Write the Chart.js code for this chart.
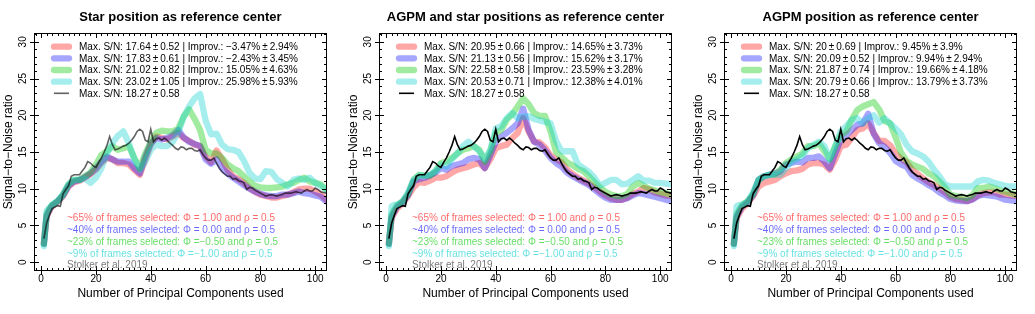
<!DOCTYPE html>
<html>
<head>
<meta charset="utf-8">
<script src="https://cdn.jsdelivr.net/npm/chart.js@4.4.1/dist/chart.umd.min.js"></script>
<style>
  body { margin: 0; background: #fff; }
  .row { display: flex; width: 1035px; height: 314px; }
  canvas { display: block; }
</style>
</head>
<body>
<div class="row">
  <canvas id="pStar" width="345" height="314"></canvas>
  <canvas id="pBoth" width="345" height="314"></canvas>
  <canvas id="pAgpm" width="345" height="314"></canvas>
</div>
<script>
// number of principal components where the coloured curves were read
const pcGrid = [1,2,3,4,6,8,10,12,14,16,
  18,20,22,24,26,28,30,32,34,36,
  38,40,42,44,46,48,50,52,54,56,
  58,60,62,64,66,68,70,72,74,76,
  78,80,82,84,86,88,90,92,94,96,
  98,100,102,104];

// Star position as reference center
const starRed = [2.6,6.2,7.0,7.6,8.2,9.0,10.3,10.9,11.1,11.5,
  12.0,12.6,13.5,14.2,14.0,13.5,13.5,13.3,12.6,11.9,
  14.0,16.0,17.1,16.9,16.7,17.1,17.6,16.9,16.5,16.0,
  15.8,14.4,13.6,15.2,14.0,12.6,11.7,11.3,10.8,10.1,
  9.6,9.2,9.0,8.8,8.8,9.0,9.2,9.5,9.9,10.0,
  10.0,9.6,9.2,8.5];
const starBlue = [2.5,6.3,7.1,7.7,8.3,9.1,10.4,11.0,11.2,11.6,
  12.1,12.8,13.7,14.4,14.0,13.7,13.7,13.7,12.8,12.1,
  14.4,16.2,16.9,16.7,16.9,17.3,18.0,17.0,16.4,16.1,
  15.8,14.0,13.4,14.0,12.8,12.1,11.5,11.0,10.5,10.0,
  9.6,9.3,9.1,9.0,9.0,9.2,9.2,9.4,9.6,9.4,
  9.3,9.1,8.9,8.3];
const starGreen = [2.5,6.5,7.3,7.8,8.3,9.2,10.6,11.2,11.2,11.7,
  12.2,13.3,14.6,15.1,15.8,15.3,15.5,15.8,14.2,12.8,
  14.8,16.4,17.6,17.9,17.8,17.8,18.2,19.8,20.8,19.5,
  18.0,15.3,14.8,14.8,14.2,13.3,12.8,12.4,11.7,11.0,
  10.4,10.2,10.1,10.1,10.2,10.3,10.6,10.8,11.2,11.5,
  11.0,10.8,10.6,9.9];
const starCyan = [2.2,7.0,7.4,7.8,8.3,9.2,10.6,11.2,11.2,11.4,
  10.8,11.5,12.8,14.8,16.2,17.2,17.8,16.2,14.0,12.6,
  13.7,15.3,16.0,15.8,15.8,16.4,17.6,19.8,21.2,22.3,
  22.9,19.3,17.4,17.5,16.0,15.4,15.3,15.0,13.8,12.2,
  11.4,11.3,12.4,12.3,11.3,10.8,10.3,11.2,11.4,11.2,
  11.5,10.8,10.4,9.9];

// AGPM and star positions as reference center
const bothRed = [2.6,6.0,6.7,7.3,8.0,9.0,10.2,10.9,10.8,11.1,
  11.5,11.5,11.7,12.2,12.6,12.8,13.0,13.3,13.5,12.8,
  14.0,15.5,15.8,16.0,16.9,17.6,19.6,17.8,16.4,16.3,
  15.6,14.5,14.0,13.6,12.6,12.0,11.5,11.1,10.7,10.2,
  9.6,9.1,8.7,8.5,8.5,8.8,9.3,9.6,10.1,9.9,
  9.5,9.3,9.1,9.0];
const bothBlue = [2.5,6.2,6.9,7.6,8.2,9.1,11.0,11.3,11.5,11.8,
  12.2,12.8,12.6,13.1,13.3,13.5,14.0,14.2,14.0,12.8,
  14.6,16.4,17.1,17.6,18.2,18.9,20.9,18.0,16.4,16.0,
  15.2,14.2,13.5,13.0,12.2,11.7,11.3,10.9,10.5,9.9,
  9.3,8.8,8.5,8.5,8.5,8.7,9.1,9.4,9.3,9.1,
  8.9,8.7,8.5,8.3];
const bothGreen = [2.5,6.5,7.2,7.8,8.3,9.3,11.2,11.9,11.8,11.8,
  12.4,13.5,13.7,14.2,14.8,15.3,15.5,15.8,15.3,13.7,
  15.1,17.6,18.0,19.4,20.1,21.2,22.3,21.5,20.3,19.9,
  19.9,17.8,15.0,14.3,13.6,13.2,12.7,12.4,11.7,10.9,
  10.2,9.6,9.2,9.0,9.0,9.3,10.3,10.8,10.4,10.0,
  9.8,9.5,9.4,9.2];
const bothCyan = [2.2,7.6,7.8,7.8,8.2,9.5,11.2,11.8,11.8,11.9,
  12.4,13.3,13.0,14.0,14.8,15.8,16.4,15.8,15.1,14.0,
  15.3,18.2,18.5,19.6,20.3,19.6,19.8,19.9,19.5,19.3,
  19.1,18.9,16.5,15.1,15.1,15.1,13.3,12.8,12.3,11.5,
  10.4,10.8,11.2,11.2,10.6,10.7,11.2,11.7,11.1,11.1,
  10.8,10.8,10.7,10.6];

// AGPM position as reference center
const agpmRed = [2.6,6.0,6.7,7.3,8.0,9.0,10.3,10.8,11.0,11.2,
  11.7,12.1,12.4,12.5,12.7,13.3,13.5,13.5,13.3,12.6,
  14.0,15.8,16.0,16.9,18.0,18.2,18.9,17.6,16.5,16.5,
  15.9,14.8,14.1,13.6,12.6,12.0,11.4,10.9,10.5,10.0,
  9.5,8.9,8.6,8.5,8.3,8.6,9.1,9.4,9.5,9.5,
  9.2,9.2,9.1,9.0];
const agpmBlue = [2.5,6.2,6.9,7.6,8.2,9.1,11.2,11.7,11.9,12.1,
  12.4,13.3,13.5,13.7,13.6,14.2,14.2,14.4,13.7,12.8,
  14.8,16.7,17.3,18.0,18.7,18.9,20.2,17.5,16.2,15.7,
  14.9,13.8,13.3,13.0,11.9,11.4,11.0,10.5,10.1,9.5,
  9.1,8.6,8.4,8.3,8.3,8.5,9.0,9.2,9.1,9.0,
  8.8,8.5,8.4,8.3];
const agpmGreen = [2.5,6.5,7.2,7.8,8.3,9.3,11.2,11.7,11.9,12.0,
  12.6,13.5,14.0,14.4,14.8,15.8,15.8,16.2,15.1,14.0,
  15.8,17.3,17.8,19.4,20.7,21.2,21.5,21.8,20.8,19.2,
  18.9,17.0,14.9,13.8,13.3,13.0,12.7,12.1,11.7,11.0,
  10.2,9.2,9.0,8.9,8.7,9.1,10.1,10.1,10.3,10.1,
  9.8,9.6,9.4,9.2];
const agpmCyan = [2.2,7.6,7.8,7.8,8.2,9.5,11.2,11.7,11.9,11.9,
  11.9,12.8,13.7,14.0,14.5,15.5,16.0,16.4,15.8,14.0,
  15.8,17.8,18.5,19.4,19.6,18.9,19.6,20.0,19.0,19.6,
  18.9,18.2,17.4,16.0,15.1,14.8,14.4,13.7,12.6,11.7,
  10.6,10.3,10.3,10.3,10.3,10.3,11.0,11.2,11.1,10.8,
  10.6,10.4,10.3,10.3];

// Stolker et al. 2019 reference curve (same in every panel)
const refPcs = [1,2,3,4,5,6,7,8,9,10,
  11,12,13,14,15,16,17,18,19,20,
  21,22,23,24,25,26,27,28,29,30,
  31,32,33,34,35,36,37,38,39,40,
  41,42,43,44,45,46,47,48,49,50,
  51,52,53,54,55,56,57,58,59,60,
  61,62,63,64,65,66,67,68,69,70,
  71,72,73,74,75,76,77,78,79,80,
  81,82,83,84,85,86,87,88,89,90,
  91,92,93,94,95,96,97,98,99,100,
  101,102,103,104];
const refSn = [3.2,5.3,6.4,7.3,7.5,7.7,7.6,9.3,9.9,10.4,
  11.7,11.9,11.9,11.9,12.4,12.9,13.7,13.5,13.1,12.9,
  13.6,14.2,15.0,15.9,17.1,16.0,15.3,15.4,15.6,15.8,
  15.9,16.2,16.6,17.1,17.8,18.1,17.8,16.6,16.4,18.1,
  16.4,16.8,16.9,16.6,16.9,16.6,16.2,15.9,15.5,15.3,
  15.7,15.6,15.3,15.5,15.5,15.2,15.1,15.3,14.7,14.2,
  13.9,13.9,14.2,13.5,12.8,12.3,12.0,11.7,11.7,11.3,
  11.4,11.1,11.0,10.8,9.9,10.2,10.1,9.8,9.6,9.4,
  9.2,9.0,9.1,9.2,9.1,9.0,9.1,9.2,9.4,9.4,
  9.4,9.5,9.6,9.5,9.4,9.7,9.9,9.7,9.7,10.1,
  9.9,9.6,9.5,9.4];

const panelTitles = ['Star position as reference center',
  'AGPM and star positions as reference center',
  'AGPM position as reference center'];
const starLegend = ['Max. S/N: 17.64\u2009±\u20090.52 | Improv.: \u22123.47%\u2009±\u20092.94%',
  'Max. S/N: 17.83\u2009±\u20090.61 | Improv.: \u22122.43%\u2009±\u20093.45%',
  'Max. S/N: 21.02\u2009±\u20090.82 | Improv.: 15.05%\u2009±\u20094.63%',
  'Max. S/N: 23.02\u2009±\u20091.05 | Improv.: 25.98%\u2009±\u20095.93%'];
const bothLegend = ['Max. S/N: 20.95\u2009±\u20090.66 | Improv.: 14.65%\u2009±\u20093.73%',
  'Max. S/N: 21.13\u2009±\u20090.56 | Improv.: 15.62%\u2009±\u20093.17%',
  'Max. S/N: 22.58\u2009±\u20090.58 | Improv.: 23.59%\u2009±\u20093.28%',
  'Max. S/N: 20.53\u2009±\u20090.71 | Improv.: 12.38%\u2009±\u20094.01%'];
const agpmLegend = ['Max. S/N: 20\u2009±\u20090.69 | Improv.: 9.45%\u2009±\u20093.9%',
  'Max. S/N: 20.09\u2009±\u20090.52 | Improv.: 9.94%\u2009±\u20092.94%',
  'Max. S/N: 21.87\u2009±\u20090.74 | Improv.: 19.66%\u2009±\u20094.18%',
  'Max. S/N: 20.79\u2009±\u20090.66 | Improv.: 13.79%\u2009±\u20093.73%'];
const refLegend = 'Max. S/N: 18.27\u2009±\u20090.58';
const selectionNotes = ['~65% of frames selected: \u03a6 = 1.00 and \u03c1 = 0.5',
  '~40% of frames selected: \u03a6 = 0.00 and \u03c1 = 0.5',
  '~23% of frames selected: \u03a6 =\u22120.50 and \u03c1 = 0.5',
  '~9% of frames selected: \u03a6 =\u22121.00 and \u03c1 = 0.5'];
const creditText = 'Stolker et al. 2019';

const xTickValues = [0, 20, 40, 60, 80, 100];
const yTickValues = [0, 5, 10, 15, 20, 25, 30];

const lineColors = ['rgba(255,0,0,0.35)', 'rgba(0,0,255,0.35)', 'rgba(0,200,0,0.37)', 'rgba(0,205,205,0.35)'];
const noteColors = ['rgba(255,0,0,0.6)', 'rgba(0,0,255,0.6)', 'rgba(0,200,0,0.6)', 'rgba(0,205,205,0.6)'];
const FONT = '"Liberation Sans", Arial, Helvetica, sans-serif';
Chart.defaults.font.family = FONT;
Chart.defaults.color = '#000';

const toPoints = (xs, ys) => xs.map((x, i) => ({ x: x, y: ys[i] }));

// R-like box, ticks, title, legend and notes
const rDecor = {
    id: 'rDecor',
    afterDraw(chart, args, opts) {
        const { ctx, chartArea: a, scales: { x, y } } = chart;
        ctx.save();
        ctx.strokeStyle = '#000';
        ctx.lineWidth = 1;
        ctx.strokeRect(a.left + 0.5, a.top + 0.5, a.right - a.left - 1, a.bottom - a.top - 1);

        ctx.beginPath();
        for (let v = -1; v <= 31; v++) {
            const p = Math.round(y.getPixelForValue(v)) + 0.5;
            ctx.moveTo(a.left, p); ctx.lineTo(a.left + 3, p);
            ctx.moveTo(a.right, p); ctx.lineTo(a.right - 3, p);
        }
        for (let v = -2; v <= 104; v += 2) {
            const p = Math.round(x.getPixelForValue(v)) + 0.5;
            ctx.moveTo(p, a.bottom); ctx.lineTo(p, a.bottom - 3);
            ctx.moveTo(p, a.top); ctx.lineTo(p, a.top + 3);
        }
        yTickValues.forEach(v => {
            const p = Math.round(y.getPixelForValue(v)) + 0.5;
            ctx.moveTo(a.left - 4, p); ctx.lineTo(a.left + 5, p);
            ctx.moveTo(a.right, p); ctx.lineTo(a.right - 5, p);
        });
        xTickValues.forEach(v => {
            const p = Math.round(x.getPixelForValue(v)) + 0.5;
            ctx.moveTo(p, a.bottom + 4); ctx.lineTo(p, a.bottom - 5);
            ctx.moveTo(p, a.top); ctx.lineTo(p, a.top + 5);
        });
        ctx.stroke();

        // title
        ctx.fillStyle = '#000';
        ctx.font = 'bold 13px ' + FONT;
        ctx.textAlign = 'center';
        ctx.textBaseline = 'middle';
        ctx.fillText(opts.title, (a.left + a.right) / 2, 17);

        // legend, top left inside the plot
        ctx.font = '10px ' + FONT;
        ctx.textAlign = 'left';
        const ds = chart.data.datasets;
        ds.forEach((d, i) => {
            const yy = a.top + 13.7 + i * 11.65;
            ctx.beginPath();
            ctx.strokeStyle = d.borderColor;
            ctx.lineWidth = d.borderWidth;
            ctx.lineCap = d.borderWidth > 3 ? 'round' : 'butt';
            ctx.moveTo(a.left + 20, yy);
            ctx.lineTo(a.left + 35, yy);
            ctx.stroke();
            ctx.fillStyle = '#000';
            ctx.fillText(d.label, a.left + 45, yy + 0.5);
        });

        // frame selection notes
        selectionNotes.forEach((t, i) => {
            ctx.fillStyle = noteColors[i];
            ctx.fillText(t, a.left + 33, a.bottom - 52.5 + i * 11.75);
        });
        ctx.fillStyle = '#7a7a7a';
        ctx.fillText(creditText, a.left + 33, a.bottom - 5.3);
        ctx.restore();
    }
};

function makePanel(id, title, series, legendTexts, refColor) {
    const datasets = series.map((s, i) => ({
        label: legendTexts[i],
        data: toPoints(pcGrid, s),
        borderColor: lineColors[i],
        borderWidth: 6.3,
        borderCapStyle: 'round',
        borderJoinStyle: 'round',
        pointRadius: 0,
        tension: 0,
        order: 5 - i
    }));
    datasets.push({
        label: refLegend,
        data: toPoints(refPcs, refSn),
        borderColor: refColor,
        borderWidth: 1.6,
        pointRadius: 0,
        tension: 0,
        order: 0
    });

    new Chart(document.getElementById(id), {
        type: 'line',
        data: { datasets: datasets },
        options: {
            responsive: false,
            animation: false,
            events: [],
            layout: { padding: { top: 33, right: 18, left: 0, bottom: 0 } },
            plugins: {
                legend: { display: false },
                tooltip: { enabled: false },
                rDecor: { title: title }
            },
            scales: {
                x: {
                    type: 'linear',
                    min: -2.6,
                    max: 104.3,
                    afterBuildTicks: s => { s.ticks = xTickValues.map(v => ({ value: v })); },
                    afterFit: s => { s.height = 43; },
                    grid: { display: false, drawTicks: false },
                    border: { display: false },
                    ticks: { maxRotation: 0, padding: 2, font: { size: 10 }, color: '#000' },
                    title: { display: true, text: 'Number of Principal Components used', font: { size: 12 }, color: '#000', padding: { top: 0, bottom: 13 } }
                },
                y: {
                    type: 'linear',
                    min: -1.2,
                    max: 31.2,
                    afterBuildTicks: s => { s.ticks = yTickValues.map(v => ({ value: v })); },
                    afterFit: s => { s.width = 34; },
                    grid: { display: false, drawTicks: false },
                    border: { display: false },
                    ticks: { minRotation: 90, maxRotation: 90, crossAlign: 'center', padding: 5, font: { size: 10 }, color: '#000' },
                    title: { display: true, text: 'Signal\u2212to\u2212Noise ratio', font: { size: 12 }, color: '#000', padding: { top: 1, bottom: 0 } }
                }
            }
        },
        plugins: [rDecor]
    });
}

makePanel('pStar', panelTitles[0], [starRed, starBlue, starGreen, starCyan], starLegend, 'rgba(0,0,0,0.62)');
makePanel('pBoth', panelTitles[1], [bothRed, bothBlue, bothGreen, bothCyan], bothLegend, '#000');
makePanel('pAgpm', panelTitles[2], [agpmRed, agpmBlue, agpmGreen, agpmCyan], agpmLegend, '#000');
</script>
</body>
</html>
